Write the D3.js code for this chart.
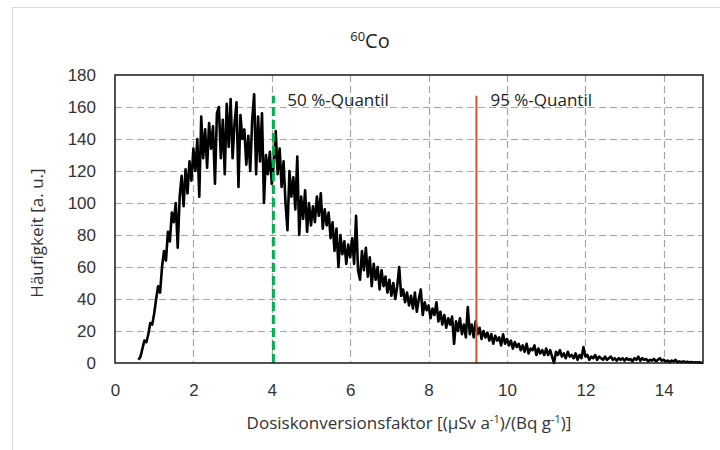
<!DOCTYPE html>
<html>
<head>
<meta charset="utf-8">
<script src="https://cdn.jsdelivr.net/npm/d3@7"></script>
<style>
  body { margin: 0; background: #fff; }
  svg { font-family: "Open Sans", "Noto Sans", sans-serif; }
  .tick text { fill: #333; font-size: 17px; }
</style>
</head>
<body>
<div id="chart"></div>
<script>
// histogram bins: first bin at 0.6, width 0.05
var binStart = 0.6;
var binWidth = 0.05;

// Haeufigkeit per bin
var counts = [
  2, 4, 9, 14, 13, 18, 25, 24,
  31, 40, 48, 44, 60, 70, 64, 82, 76, 94, 88, 100, 72, 104, 117, 98, 121, 106, 126, 114,
  134, 120, 140, 104, 154, 128, 146, 122, 150, 134, 148, 112, 156, 160, 128, 152, 118, 162, 135, 165,
  128, 150, 163, 110, 155, 140, 146, 124, 142, 120, 152, 168, 118, 154, 126, 156, 100, 130, 118, 132,
  112, 124, 145, 118, 134, 110, 126, 100, 83, 120, 104, 116, 96, 129, 80, 104, 90, 108, 82, 100,
  86, 98, 88, 104, 92, 106, 84, 96, 86, 94, 78, 88, 70, 84, 60, 80, 68, 76, 62, 74,
  66, 78, 62, 92, 58, 52, 70, 58, 72, 54, 66, 48, 62, 52, 60, 46, 58, 48, 54, 44,
  52, 42, 50, 40, 48, 60, 42, 46, 38, 44, 36, 42, 34, 44, 32, 40, 46, 30, 38, 33,
  36, 28, 34, 30, 38, 26, 32, 24, 30, 22, 28, 24, 29, 12, 26, 20, 28, 18, 24, 16,
  35, 18, 24, 16, 26, 18, 22, 15, 20, 16, 19, 14, 18, 12, 17, 14, 16, 11, 18, 12,
  15, 11, 14, 9, 13, 10, 12, 8, 11, 7, 12, 6, 9, 8, 11, 5, 9, 6, 8, 5,
  9, 5, 8, 4, 0, 7, 5, 8, 4, 6, 3, 7, 4, 5, 3, 6, 2, 5, 3, 10,
  4, 5, 2, 4, 3, 5, 2, 4, 3, 2, 4, 2, 3, 4, 2, 3, 1.5, 3, 2, 3,
  1.5, 3, 2, 2.5, 1, 3, 2, 4, 1.5, 3, 2, 2.5, 1, 2, 1.5, 2.5, 1, 2, 3, 1.5,
  2, 1, 1.5, 0.5, 1.5, 1, 2, 0.5, 1, 0.5, 1, 0.5, 0.8, 0.3, 0.6, 0.3, 0.5, 0.3, 0.4, 0.2, 0.2
];

var xTicks = [0, 2, 4, 6, 8, 10, 12, 14];
var yTicks = [0, 20, 40, 60, 80, 100, 120, 140, 160, 180];

// quantile markers
var quantiles = [
  { name: "50 %-Quantil", x: 4.04, top: 167, color: "#00b050", dash: "9,4", width: 3 },
  { name: "95 %-Quantil", x: 9.22, top: 167, color: "#d9502f", dash: null, width: 2 }
];

var W = 720, H = 450;
var margin = { top: 75, right: 17, bottom: 87, left: 115 };
var w = W - margin.left - margin.right;
var h = H - margin.top - margin.bottom;

var data = counts.map(function (c, i) {
  return { x: binStart + i * binWidth, y: c };
});

var xScale = d3.scaleLinear().domain([0, 15]).range([0, w]);
var yScale = d3.scaleLinear().domain([0, 180]).range([h, 0]);

var svg = d3.select("#chart").append("svg")
  .attr("width", W)
  .attr("height", H);

// outer chart border
svg.append("rect")
  .attr("x", 12.5).attr("y", 7.5)
  .attr("width", W).attr("height", H)
  .attr("fill", "none")
  .attr("stroke", "#d9d9d9")
  .attr("stroke-width", 1);

// title 60Co
var title = svg.append("text")
  .attr("x", 370)
  .attr("y", 48)
  .attr("text-anchor", "middle")
  .attr("fill", "#222")
  .style("font-size", "20px");
title.append("tspan").text("60").attr("dy", "-7").style("font-size", "13px");
title.append("tspan").text("Co").attr("dy", "7");

var g = svg.append("g")
  .attr("transform", "translate(" + margin.left + "," + margin.top + ")");

// grid
g.append("g").selectAll("line")
  .data(yTicks.slice(1, -1))
  .enter().append("line")
  .attr("x1", 0).attr("x2", w)
  .attr("y1", function (d) { return Math.round(yScale(d)) + 0.5; })
  .attr("y2", function (d) { return Math.round(yScale(d)) + 0.5; })
  .attr("stroke", "#a6a6a6")
  .attr("stroke-width", 1.2)
  .attr("stroke-dasharray", "7,4");

g.append("g").selectAll("line")
  .data(xTicks.slice(1))
  .enter().append("line")
  .attr("y1", 0).attr("y2", h)
  .attr("x1", function (d) { return Math.round(xScale(d)) + 0.5; })
  .attr("x2", function (d) { return Math.round(xScale(d)) + 0.5; })
  .attr("stroke", "#a6a6a6")
  .attr("stroke-width", 1.2)
  .attr("stroke-dasharray", "7,4");

// axes (labels only, frame drawn below)
var xAxis = d3.axisBottom(xScale).tickValues(xTicks).tickSize(0).tickPadding(21);
g.append("g")
  .attr("transform", "translate(0," + h + ")")
  .call(xAxis)
  .call(function (a) { a.select(".domain").remove(); });

var yAxis = d3.axisLeft(yScale).tickValues(yTicks).tickSize(0).tickPadding(19);
g.append("g")
  .call(yAxis)
  .call(function (a) { a.select(".domain").remove(); });

// histogram line
var line = d3.line()
  .x(function (d) { return xScale(d.x); })
  .y(function (d) { return yScale(d.y); });

g.append("path")
  .datum(data)
  .attr("d", line)
  .attr("fill", "none")
  .attr("stroke", "#000")
  .attr("stroke-width", 2.6)
  .attr("stroke-linejoin", "round");

// quantile lines + labels
quantiles.forEach(function (q) {
  g.append("line")
    .attr("x1", xScale(q.x)).attr("x2", xScale(q.x))
    .attr("y1", yScale(0)).attr("y2", yScale(q.top))
    .attr("stroke", q.color)
    .attr("stroke-width", q.width)
    .attr("stroke-dasharray", q.dash);

  g.append("text")
    .attr("x", xScale(q.x) + 14)
    .attr("y", yScale(q.top) + 10)
    .attr("fill", "#222")
    .style("font-size", "17px")
    .text(q.name);
});

// plot frame
g.append("rect")
  .attr("x", 0).attr("y", 0)
  .attr("width", w).attr("height", h)
  .attr("fill", "none")
  .attr("stroke", "#1a1a1a")
  .attr("stroke-width", 1.5);

// axis titles
g.append("text")
  .attr("transform", "translate(-72," + (h / 2 + 14) + ") rotate(-90)")
  .attr("text-anchor", "middle")
  .attr("fill", "#333")
  .style("font-size", "17px")
  .text("Häufigkeit [a. u.]");

var xt = g.append("text")
  .attr("x", w / 2)
  .attr("y", h + 66)
  .attr("text-anchor", "middle")
  .attr("fill", "#333")
  .style("font-size", "17px");
xt.append("tspan").text("Dosiskonversionsfaktor [(µSv a");
xt.append("tspan").text("-1").attr("dy", -6).style("font-size", "11px");
xt.append("tspan").text(")/(Bq g").attr("dy", 6);
xt.append("tspan").text("-1").attr("dy", -6).style("font-size", "11px");
xt.append("tspan").text(")]").attr("dy", 6);
</script>
</body>
</html>
